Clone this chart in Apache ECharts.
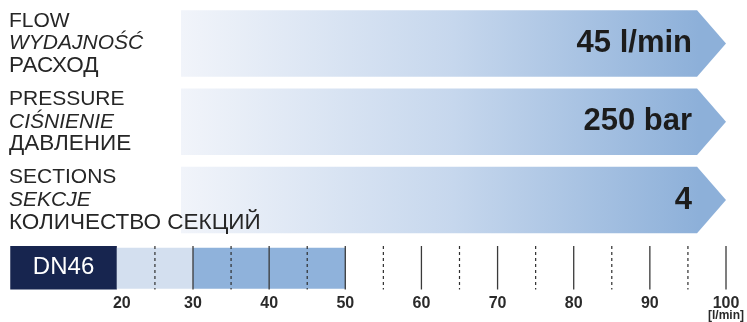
<!DOCTYPE html>
<html>
<head>
<meta charset="utf-8">
<script src="https://cdn.jsdelivr.net/npm/echarts@6/dist/echarts.min.js"></script>
<style>
  html, body { margin: 0; padding: 0; background: #fff; }
  #chartdiv { width: 747px; height: 322px; }
</style>
</head>
<body>
<div id="chartdiv"></div>
<script>
// parameter rows (three languages) and their values
const LABELS_EN = ["FLOW", "PRESSURE", "SECTIONS"];
const LABELS_PL = ["WYDAJNOŚĆ", "CIŚNIENIE", "SEKCJE"];
const LABELS_RU = ["РАСХОД", "ДАВЛЕНИЕ", "КОЛИЧЕСТВО СЕКЦИЙ"];
const VALUE_TEXT = ["45 l/min", "250 bar", "4"];
const BANNER_LENGTH = [1, 1, 1];

// flow scale
const SIZE_NAME = "DN46";
const SIZE_RANGE = [6, 20];
const FLOW_LOW = [20, 30];
const FLOW_HIGH = [30, 50];
const SCALE_LABELS = [20, 30, 40, 50, 60, 70, 80, 90, 100];
const MAJOR_TICKS = [30, 40, 50, 60, 70, 80, 90, 100];
const MINOR_TICKS = [25, 35, 45, 55, 65, 75, 85, 95];
const UNIT = "[l/min]";

const FONT = "'Liberation Sans', Arial, Helvetica, sans-serif";

function renderChart() {
  const chart = echarts.init(document.getElementById("chartdiv"), null, { renderer: "canvas" });

  const bannerData = BANNER_LENGTH.map((v, i) => [v, i]);
  const bandData = [
    [SIZE_RANGE[0], SIZE_RANGE[1], 0],
    [FLOW_LOW[0], FLOW_LOW[1], 1],
    [FLOW_HIGH[0], FLOW_HIGH[1], 2]
  ];
  const tickData = MAJOR_TICKS.map(v => [v, 1]).concat(MINOR_TICKS.map(v => [v, 0]));

  const labelStyle = { fontFamily: FONT, fontSize: 16, fontWeight: "bold", color: "#2a2a2a", lineHeight: 14 };

  const option = {
    animation: false,
    grid: [
      { left: 181, right: 21, top: 4.4, height: 234.75 },
      { left: 10.25, right: 20, top: 246, height: 44 }
    ],
    xAxis: [
      { gridIndex: 0, type: "value", min: 0, max: 1, show: false },
      {
        gridIndex: 1, type: "value", min: 6, max: 100,
        axisLine: { show: false }, axisTick: { show: false }, splitLine: { show: false },
        axisLabel: Object.assign({
          customValues: SCALE_LABELS,
          margin: 7,
          formatter: v => {
            if (v === 100) return `{v|${v}}\n{u|${UNIT}}`;
            if (v === SIZE_RANGE[1]) return `{s|${v}}`;
            return `{v|${v}}`;
          },
          rich: {
            v: labelStyle,
            s: Object.assign({}, labelStyle, { padding: [0, 0, 0, 10] }),
            u: { fontFamily: FONT, fontSize: 12, fontWeight: "bold", color: "#2a2a2a", lineHeight: 11 }
          }
        }, labelStyle)
      }
    ],
    yAxis: [
      {
        gridIndex: 0, type: "category", inverse: true, data: [0, 1, 2],
        z: 10,
        axisLine: { show: false }, axisTick: { show: false }, splitLine: { show: false },
        axisLabel: {
          align: "left",
          margin: 172,
          fontFamily: FONT,
          fontSize: 21,
          color: "#262626",
          formatter: (v, i) => `{en|${LABELS_EN[i]}}\n{pl|${LABELS_PL[i]}}\n{ru|${LABELS_RU[i]}}`,
          rich: {
            en: { fontFamily: FONT, fontSize: 21, color: "#262626", lineHeight: 22.5 },
            pl: { fontFamily: FONT, fontSize: 21, fontStyle: "italic", color: "#262626", lineHeight: 22.5 },
            ru: { fontFamily: FONT, fontSize: 22.5, color: "#262626", lineHeight: 22.5 }
          }
        }
      },
      { gridIndex: 1, type: "value", min: 0, max: 1, show: false }
    ],
    series: [
      {
        // arrow banners with the values
        type: "custom",
        xAxisIndex: 0, yAxisIndex: 0,
        z: 1,
        encode: { x: 0, y: 1 },
        data: bannerData,
        renderItem: (params, api) => {
          const row = api.value(1);
          const start = api.coord([0, row]);
          const end = api.coord([api.value(0), row]);
          const half = api.size([0, 1])[1] * 0.85 / 2;
          const yc = start[1];
          const tip = end[0];
          const body = tip - half * 0.87;
          return {
            type: "group",
            children: [
              {
                type: "polygon",
                shape: { points: [[start[0], yc - half], [body, yc - half], [tip, yc], [body, yc + half], [start[0], yc + half]] },
                style: {
                  fill: new echarts.graphic.LinearGradient(0, 0, 1, 0, [
                    { offset: 0, color: "#f1f4fa" },
                    { offset: 0.5, color: "#c6d7ed" },
                    { offset: 0.95, color: "#8db0d9" },
                    { offset: 1, color: "#8db0d9" }
                  ])
                }
              },
              {
                type: "text",
                x: tip - 34, y: yc,
                style: {
                  text: VALUE_TEXT[row],
                  fill: "#1c1c1c",
                  font: `bold 31px ${FONT}`,
                  align: "right",
                  verticalAlign: "middle"
                }
              }
            ]
          };
        }
      },
      {
        // size box and flow ranges
        type: "custom",
        xAxisIndex: 1, yAxisIndex: 1,
        encode: { x: [0, 1] },
        data: bandData,
        renderItem: (params, api) => {
          const kind = api.value(2);
          const top = kind === 0 ? 1 : 0.96;
          const bottom = kind === 0 ? 0 : 0.02;
          const p0 = api.coord([api.value(0), top]);
          const p1 = api.coord([api.value(1), bottom]);
          const colors = ["#17254f", "#d3dfef", "#8fb2db"];
          const children = [{
            type: "rect",
            shape: { x: p0[0], y: p0[1], width: p1[0] - p0[0], height: p1[1] - p0[1] },
            style: { fill: colors[kind] }
          }];
          if (kind === 0) {
            children.push({
              type: "text",
              x: (p0[0] + p1[0]) / 2, y: (p0[1] + p1[1]) / 2,
              style: { text: SIZE_NAME, fill: "#fff", font: `24px ${FONT}`, align: "center", verticalAlign: "middle" }
            });
          }
          return { type: "group", children: children };
        }
      },
      {
        // scale tick lines
        type: "custom",
        xAxisIndex: 1, yAxisIndex: 1,
        encode: { x: 0 },
        data: tickData,
        renderItem: (params, api) => {
          const major = api.value(1) === 1;
          const a = api.coord([api.value(0), 1]);
          const b = api.coord([api.value(0), 0]);
          return {
            type: "line",
            shape: { x1: a[0], y1: a[1], x2: b[0], y2: b[1] },
            style: { stroke: major ? "#3a3a3a" : "#2e2e2e", lineWidth: major ? 1.3 : 1.2, lineDash: major ? null : [3, 3] }
          };
        }
      }
    ]
  };

  chart.setOption(option);
}

window.onload = function() {
  renderChart();
};
</script>
</body>
</html>
